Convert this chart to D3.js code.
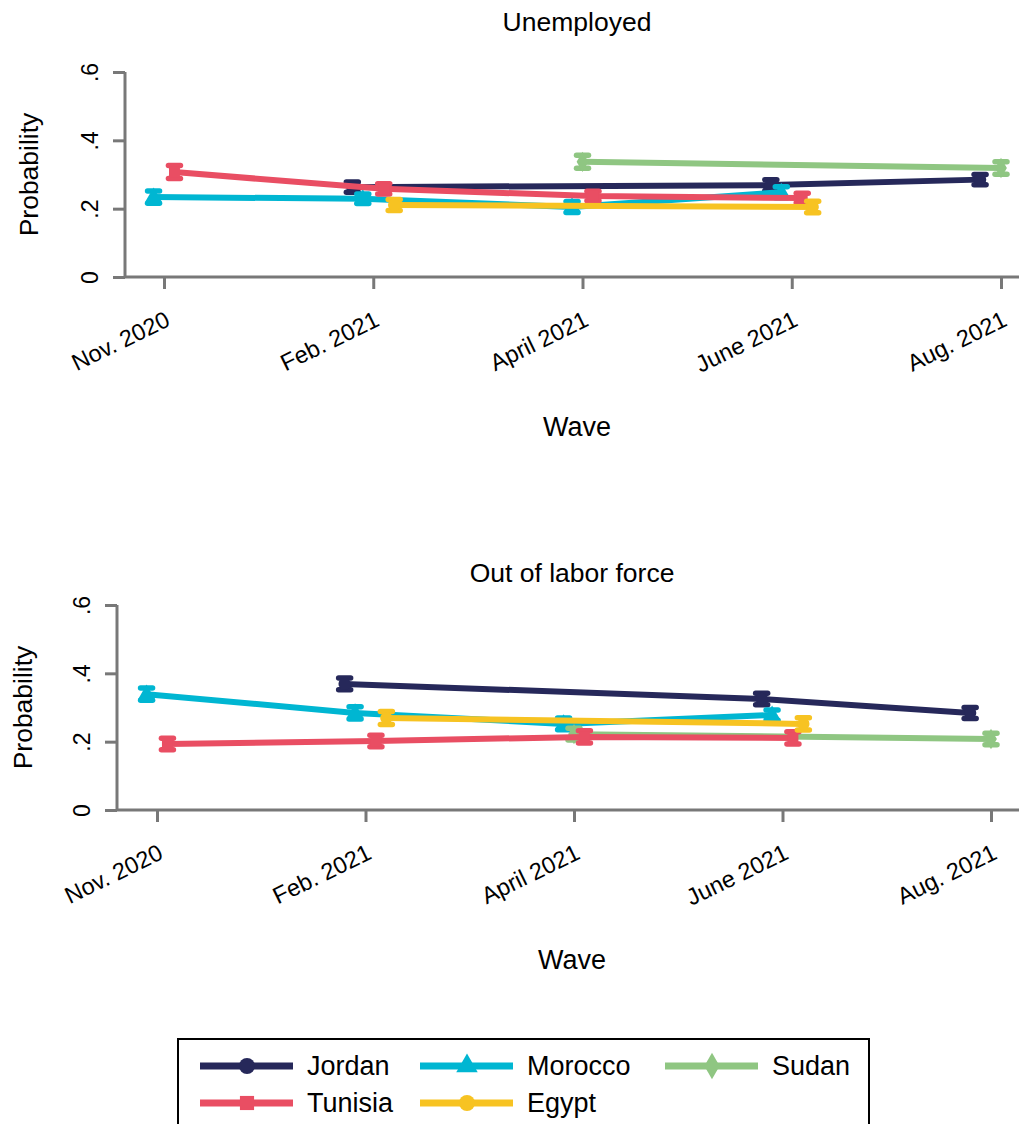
<!DOCTYPE html>
<html>
<head>
<meta charset="utf-8">
<script src="https://cdn.jsdelivr.net/npm/d3@7"></script>
<style>
  html, body { margin: 0; padding: 0; background: #fff; }
  svg { display: block; font-family: "Liberation Sans", Arial, Helvetica, sans-serif; }
</style>
</head>
<body>
<svg id="chart" width="1019" height="1124"></svg>
<script>
// Survey waves (x categories) and countries (series)
const waves = ["Nov. 2020", "Feb. 2021", "April 2021", "June 2021", "Aug. 2021"];
const countries = ["Jordan", "Morocco", "Sudan", "Tunisia", "Egypt"];
const countryColors = ["#26285a", "#00b6d2", "#8fc682", "#e94e63", "#f7c322"];
const countryShapes = ["circle", "triangle", "diamond", "square", "circle"];
// horizontal dodge of each country around a wave, in wave units
const countryDodge = [-0.1, -0.05, 0, 0.05, 0.1];
const yTicks = [0, 0.2, 0.4, 0.6];

// Panel 1: unemployed — predicted probability by wave (null = not surveyed)
const jordanUnemployed  = [null, 0.263, null, 0.269, 0.285];
const moroccoUnemployed = [0.234, 0.229, 0.205, 0.248, null];
const sudanUnemployed   = [null, null, 0.337, null, 0.319];
const tunisiaUnemployed = [0.307, 0.258, 0.237, 0.231, null];
const egyptUnemployed   = [null, 0.211, null, 0.205, null];
// 95% CI half-widths
const jordanUnemployedCI  = [null, 0.015, null, 0.016, 0.015];
const moroccoUnemployedCI = [0.018, 0.014, 0.016, 0.016, null];
const sudanUnemployedCI   = [null, null, 0.019, null, 0.018];
const tunisiaUnemployedCI = [0.019, 0.015, 0.014, 0.014, null];
const egyptUnemployedCI   = [null, 0.016, null, 0.017, null];

// Panel 2: out of labor force
const jordanOLF  = [null, 0.369, null, 0.325, 0.284];
const moroccoOLF = [0.339, 0.284, 0.252, 0.278, null];
const sudanOLF   = [null, null, 0.222, null, 0.208];
const tunisiaOLF = [0.193, 0.202, 0.214, 0.211, null];
const egyptOLF   = [null, 0.269, null, 0.252, null];
const jordanOLFCI  = [null, 0.017, null, 0.017, 0.016];
const moroccoOLFCI = [0.018, 0.018, 0.017, 0.015, null];
const sudanOLFCI   = [null, null, 0.017, null, 0.017];
const tunisiaOLFCI = [0.017, 0.017, 0.018, 0.018, null];
const egyptOLFCI   = [null, 0.019, null, 0.018, null];

const panels = [
  {
    title: "Unemployed",
    values: [jordanUnemployed, moroccoUnemployed, sudanUnemployed, tunisiaUnemployed, egyptUnemployed],
    ci: [jordanUnemployedCI, moroccoUnemployedCI, sudanUnemployedCI, tunisiaUnemployedCI, egyptUnemployedCI],
    axisX: 125, top: 72, bottom: 277, firstTick: 164, lastTick: 1001,
    titleX: 577, titleY: 31, ytitleX: 38, wavesY: 436, tickLabelX: 98
  },
  {
    title: "Out of labor force",
    values: [jordanOLF, moroccoOLF, sudanOLF, tunisiaOLF, egyptOLF],
    ci: [jordanOLFCI, moroccoOLFCI, sudanOLFCI, tunisiaOLFCI, egyptOLFCI],
    axisX: 117, top: 605, bottom: 810, firstTick: 157, lastTick: 991,
    titleX: 572, titleY: 582, ytitleX: 32, wavesY: 969, tickLabelX: 90
  }
];

const svg = d3.select("#chart");
const axisColor = "#787878";
const rightEdge = 1019;

function symbolFor(shape, size) {
  const t = { circle: d3.symbolCircle, triangle: d3.symbolTriangle, diamond: d3.symbolDiamond, square: d3.symbolSquare }[shape];
  return d3.symbol().type(t).size(size)();
}

const fmtTick = d => d === 0 ? "0" : d3.format(".1f")(d).replace(/^0/, "");

panels.forEach(p => {
  const g = svg.append("g");
  const x = d3.scaleLinear().domain([0, waves.length - 1]).range([p.firstTick, p.lastTick]);
  const y = d3.scaleLinear().domain([0, 0.6]).range([p.bottom, p.top]);

  // panel title
  g.append("text").attr("x", p.titleX).attr("y", p.titleY)
    .attr("text-anchor", "middle").attr("font-size", 26.5).attr("fill", "#000").text(p.title);

  // y axis
  const yAxis = g.append("g").attr("transform", `translate(${p.axisX},0)`)
    .call(d3.axisLeft(y).tickValues(yTicks).tickFormat(fmtTick).tickSize(12).tickPadding(0));
  yAxis.select(".domain").attr("stroke", axisColor).attr("stroke-width", 3)
    .attr("d", `M0,${p.top}V${p.bottom}`);
  yAxis.selectAll(".tick line").attr("stroke", axisColor).attr("stroke-width", 3);
  yAxis.selectAll(".tick text")
    .attr("x", null).attr("dy", null)
    .attr("transform", `translate(${p.tickLabelX - p.axisX},0) rotate(-90)`)
    .attr("text-anchor", "middle").attr("font-size", 23).attr("fill", "#000")
    .attr("font-family", "Liberation Sans, Arial, sans-serif");

  // x axis: line runs to the right edge
  g.append("line").attr("x1", p.axisX).attr("x2", rightEdge)
    .attr("y1", p.bottom).attr("y2", p.bottom)
    .attr("stroke", axisColor).attr("stroke-width", 3);
  const xAxis = g.append("g").attr("transform", `translate(0,${p.bottom})`)
    .call(d3.axisBottom(x).tickValues(d3.range(waves.length)).tickFormat(i => waves[i]).tickSize(12).tickSizeOuter(0));
  xAxis.select(".domain").remove();
  xAxis.selectAll(".tick line").attr("stroke", axisColor).attr("stroke-width", 3);
  xAxis.selectAll(".tick text")
    .attr("y", null).attr("dy", null)
    .attr("transform", "translate(7,48) rotate(-26)")
    .attr("text-anchor", "end").attr("font-size", 23.5).attr("fill", "#000")
    .attr("font-family", "Liberation Sans, Arial, sans-serif");

  // axis titles
  g.append("text").attr("transform", `translate(${p.ytitleX},${(p.top + p.bottom) / 2}) rotate(-90)`)
    .attr("text-anchor", "middle").attr("font-size", 26.5).attr("fill", "#000").text("Probability");
  g.append("text").attr("x", p.titleX).attr("y", p.wavesY)
    .attr("text-anchor", "middle").attr("font-size", 27).attr("fill", "#000").text("Wave");

  // series: connecting line, CI caps, markers
  countries.forEach((c, ci) => {
    const pts = p.values[ci].map((v, i) => ({ i, v, h: p.ci[ci][i] })).filter(d => d.v !== null);
    const px = d => x(d.i + countryDodge[ci]);
    const color = countryColors[ci];
    const sg = g.append("g");
    sg.append("path").datum(pts)
      .attr("d", d3.line().x(px).y(d => y(d.v)))
      .attr("fill", "none").attr("stroke", color).attr("stroke-width", 6);
    pts.forEach(d => {
      const cx = px(d), lo = y(d.v - d.h), hi = y(d.v + d.h);
      sg.append("line").attr("x1", cx).attr("x2", cx).attr("y1", lo).attr("y2", hi)
        .attr("stroke", color).attr("stroke-width", 5);
      [lo, hi].forEach(yy => sg.append("line")
        .attr("x1", cx - 6).attr("x2", cx + 6).attr("y1", yy).attr("y2", yy)
        .attr("stroke", color).attr("stroke-width", 5.5).attr("stroke-linecap", "round"));
      sg.append("path").attr("transform", `translate(${cx},${y(d.v)})`)
        .attr("d", symbolFor(countryShapes[ci], 120)).attr("fill", color);
    });
  });
});

// legend: 3 columns, row-major
const legend = svg.append("g");
legend.append("rect").attr("x", 178).attr("y", 1039).attr("width", 691).attr("height", 100)
  .attr("fill", "#fff").attr("stroke", "#000").attr("stroke-width", 2);
const colX = [200, 420, 665];
const rowY = [1066, 1103];
countries.forEach((c, i) => {
  const cx = colX[i % 3], cy = rowY[Math.floor(i / 3)];
  legend.append("line").attr("x1", cx).attr("x2", cx + 93).attr("y1", cy).attr("y2", cy)
    .attr("stroke", countryColors[i]).attr("stroke-width", 7);
  legend.append("path").attr("transform", `translate(${cx + 47},${cy})`)
    .attr("d", symbolFor(countryShapes[i], 200)).attr("fill", countryColors[i]);
  legend.append("text").attr("x", cx + 107).attr("y", cy + 9)
    .attr("font-size", 27).attr("fill", "#000").text(c);
});
</script>
</body>
</html>
